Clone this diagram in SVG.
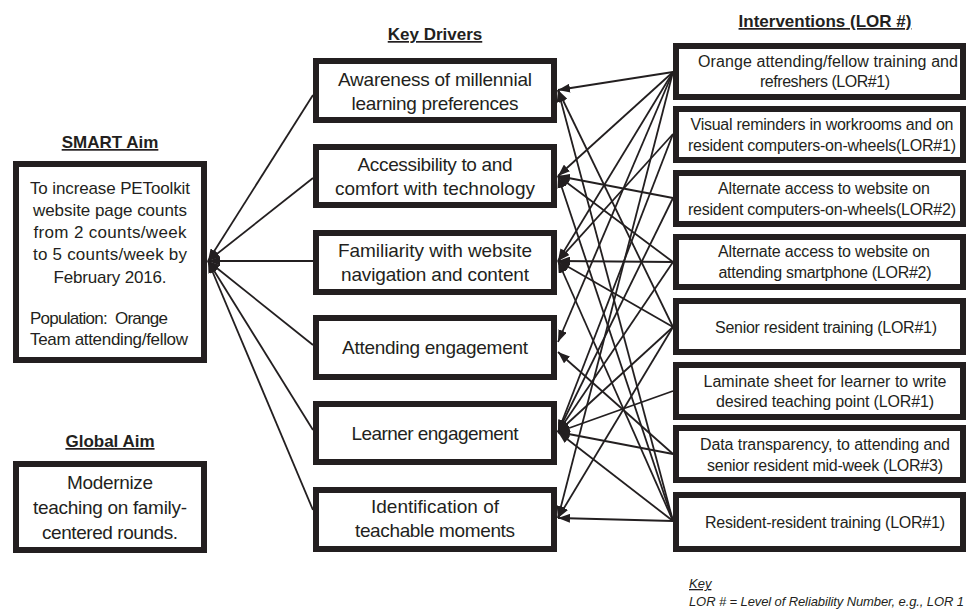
<svg xmlns="http://www.w3.org/2000/svg" width="966" height="610" viewBox="0 0 966 610">
<style>
.box{fill:#fff;stroke:#231f20;stroke-width:6}
.t{font-family:"Liberation Sans",Arial,sans-serif;fill:#231f20}
.aim{font-size:17px}
.kd{font-size:19px;text-anchor:middle}
.iv{font-size:16px;text-anchor:middle}
.hd{font-size:17px;font-weight:bold;text-anchor:middle;text-decoration:underline}
.key{font-size:13px;font-style:italic}
.c line{stroke:#231f20;stroke-width:1.8;fill:none;marker-end:url(#ah)}
</style>
<defs>
<marker id="ah" markerUnits="userSpaceOnUse" markerWidth="12" markerHeight="9" refX="12" refY="4.5" orient="auto">
<path d="M0,0 L12,4.5 L0,9 z" fill="#231f20"/>
</marker>
</defs>
<rect width="966" height="610" fill="#fff"/>

<g id="titles" class="t">
<text class="hd" x="110" y="148">SMART Aim</text>
<text class="hd" x="110" y="447">Global Aim</text>
<text class="hd" x="435" y="40">Key Drivers</text>
<text class="hd" x="825" y="27">Interventions (LOR #)</text>
</g>

<g id="connectors" class="c">
<line x1="313" y1="95" x2="208" y2="261"/>
<line x1="313" y1="178" x2="208" y2="261"/>
<line x1="313" y1="261" x2="208" y2="261"/>
<line x1="313" y1="345" x2="208" y2="261"/>
<line x1="313" y1="430" x2="208" y2="261"/>
<line x1="313" y1="510" x2="208" y2="261"/>

<line x1="673" y1="72" x2="558" y2="90"/>
<line x1="673" y1="72" x2="558" y2="176"/>
<line x1="673" y1="72" x2="558" y2="261"/>
<line x1="673" y1="72" x2="558" y2="342"/>
<line x1="673" y1="72" x2="558" y2="518"/>
<line x1="673" y1="134" x2="558" y2="261"/>
<line x1="673" y1="134" x2="558" y2="432"/>
<line x1="673" y1="198" x2="558" y2="176"/>
<line x1="673" y1="198" x2="558" y2="432"/>
<line x1="673" y1="262" x2="558" y2="176"/>
<line x1="673" y1="262" x2="558" y2="261"/>
<line x1="673" y1="262" x2="558" y2="432"/>
<line x1="673" y1="327" x2="558" y2="90"/>
<line x1="673" y1="327" x2="558" y2="261"/>
<line x1="673" y1="327" x2="558" y2="432"/>
<line x1="673" y1="327" x2="558" y2="518"/>
<line x1="673" y1="391" x2="558" y2="432"/>
<line x1="673" y1="454" x2="558" y2="352"/>
<line x1="673" y1="454" x2="558" y2="432"/>
<line x1="673" y1="521" x2="558" y2="90"/>
<line x1="673" y1="521" x2="558" y2="176"/>
<line x1="673" y1="521" x2="558" y2="261"/>
<line x1="673" y1="521" x2="558" y2="432"/>
<line x1="673" y1="521" x2="558" y2="518"/>
</g>

<g id="smart-aim">
<rect class="box" x="16" y="164" width="188" height="196"/>
<g class="t aim">
<text x="110" y="194" text-anchor="middle" textLength="160">To increase PEToolkit</text>
<text x="110" y="216" text-anchor="middle" textLength="154">website page counts</text>
<text x="110" y="238" text-anchor="middle" textLength="153">from 2 counts/week</text>
<text x="110" y="260" text-anchor="middle" textLength="154">to 5 counts/week by</text>
<text x="110" y="283" text-anchor="middle" textLength="113">February 2016.</text>
<text x="30" y="324" textLength="138" xml:space="preserve">Population:  Orange</text>
<text x="30" y="345" textLength="158">Team attending/fellow</text>
</g>
</g>

<g id="global-aim">
<rect class="box" x="16" y="464" width="188" height="86"/>
<g class="t" style="font-size:19px;text-anchor:middle">
<text x="110" y="489" textLength="86">Modernize</text>
<text x="110" y="514" textLength="154">teaching on family-</text>
<text x="110" y="539" textLength="136">centered rounds.</text>
</g>
</g>

<g id="kd1"><rect class="box" x="316" y="61" width="238" height="59"/>
<text class="t kd" x="435" y="86" textLength="194">Awareness of millennial</text>
<text class="t kd" x="435" y="110" textLength="167">learning preferences</text></g>
<g id="kd2"><rect class="box" x="316" y="147" width="238" height="58"/>
<text class="t kd" x="435" y="171" textLength="155">Accessibility to and</text>
<text class="t kd" x="435" y="195" textLength="200">comfort with technology</text></g>
<g id="kd3"><rect class="box" x="316" y="233" width="238" height="59"/>
<text class="t kd" x="435" y="257" textLength="194">Familiarity with website</text>
<text class="t kd" x="435" y="281" textLength="188">navigation and content</text></g>
<g id="kd4"><rect class="box" x="316" y="318" width="238" height="59"/>
<text class="t kd" x="435" y="354" textLength="186">Attending engagement</text></g>
<g id="kd5"><rect class="box" x="316" y="404" width="238" height="58"/>
<text class="t kd" x="435" y="440" textLength="167">Learner engagement</text></g>
<g id="kd6"><rect class="box" x="316" y="490" width="238" height="59"/>
<text class="t kd" x="435" y="513" textLength="128">Identification of</text>
<text class="t kd" x="435" y="537" textLength="160">teachable moments</text></g>

<g id="iv1"><rect class="box" x="676" y="46" width="287" height="51"/>
<text class="t iv" x="828" y="67" textLength="260">Orange attending/fellow training and</text>
<text class="t iv" x="825" y="87" textLength="130">refreshers (LOR#1)</text></g>
<g id="iv2"><rect class="box" x="676" y="109" width="287" height="51"/>
<text class="t iv" x="822" y="130" textLength="263">Visual reminders in workrooms and on</text>
<text class="t iv" x="822" y="151" textLength="268">resident computers-on-wheels(LOR#1)</text></g>
<g id="iv3"><rect class="box" x="676" y="173" width="287" height="51"/>
<text class="t iv" x="824" y="194" textLength="212">Alternate access to website on</text>
<text class="t iv" x="822" y="215" textLength="268">resident computers-on-wheels(LOR#2)</text></g>
<g id="iv4"><rect class="box" x="676" y="237" width="287" height="50"/>
<text class="t iv" x="824" y="257" textLength="212">Alternate access to website on</text>
<text class="t iv" x="825" y="278" textLength="213">attending smartphone (LOR#2)</text></g>
<g id="iv5"><rect class="box" x="676" y="301" width="287" height="51"/>
<text class="t iv" x="826" y="333" textLength="222">Senior resident training (LOR#1)</text></g>
<g id="iv6"><rect class="box" x="676" y="365" width="287" height="52"/>
<text class="t iv" x="825" y="387" textLength="243">Laminate sheet for learner to write</text>
<text class="t iv" x="825" y="407" textLength="218">desired teaching point (LOR#1)</text></g>
<g id="iv7"><rect class="box" x="676" y="428" width="287" height="52"/>
<text class="t iv" x="825" y="450" textLength="250">Data transparency, to attending and</text>
<text class="t iv" x="825" y="471" textLength="236">senior resident mid-week (LOR#3)</text></g>
<g id="iv8"><rect class="box" x="676" y="495" width="287" height="54"/>
<text class="t iv" x="825" y="528" textLength="240">Resident-resident training (LOR#1)</text></g>

<g id="key" class="t key">
<text x="689" y="588" text-decoration="underline">Key</text>
<text x="689" y="606" textLength="275">LOR # = Level of Reliability Number, e.g., LOR 1</text>
</g>
</svg>
